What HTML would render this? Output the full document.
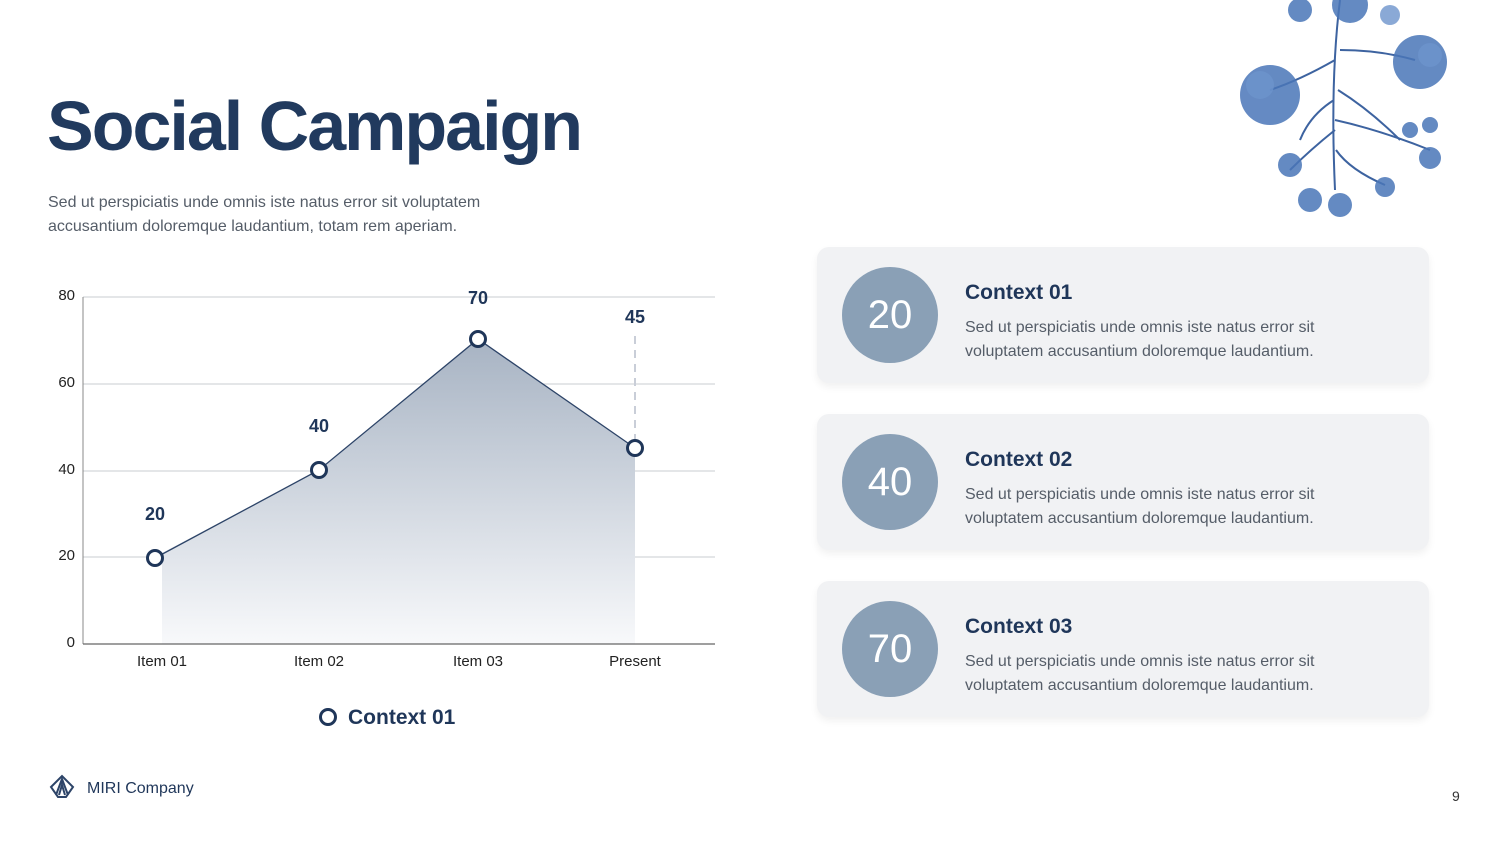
<!DOCTYPE html>
<html><head><meta charset="utf-8"><style>
body{margin:0;width:1500px;height:844px;background:#fff;overflow:hidden;position:relative;font-family:"Liberation Sans",sans-serif;color:#1f3659}
.t{position:absolute}
.card{position:absolute;left:817px;width:612px;height:136px;background:#f1f2f4;border-radius:12px;box-shadow:0 4px 8px rgba(0,0,0,0.06)}
.circ{position:absolute;left:25px;top:20px;width:96px;height:96px;border-radius:50%;background:#8aa0b6;color:#fff;font-size:40px;text-align:center;line-height:96px}
.ct{position:absolute;left:148px;top:34px;font-size:21px;font-weight:bold;color:#1f3659}
.cd{position:absolute;left:148px;top:69px;font-size:16px;line-height:23.5px;color:#555d68}
</style></head><body>
<div class="t" style="left:47px;top:86px;font-size:70px;font-weight:bold;letter-spacing:-2px;color:#213a5e">Social Campaign</div>
<div class="t" style="left:48px;top:191px;font-size:16px;line-height:24px;color:#555d68">Sed ut perspiciatis unde omnis iste natus error sit voluptatem<br>accusantium doloremque laudantium, totam rem aperiam.</div>
<svg class="t" style="left:0;top:0" width="800" height="844">
<defs><linearGradient id="g" x1="0" y1="0" x2="0" y2="1"><stop offset="0" stop-color="#a7b3c3"/><stop offset="1" stop-color="#f8f9fb"/></linearGradient></defs>
<g stroke="#d3d6da" stroke-width="1.3"><line x1="83" y1="297" x2="715" y2="297"/><line x1="83" y1="384" x2="715" y2="384"/><line x1="83" y1="471" x2="715" y2="471"/><line x1="83" y1="557" x2="715" y2="557"/></g>
<polygon points="162,553 319,470 478,339 635,448 635,644 162,644" fill="url(#g)"/>
<polyline points="155,558 319,470 478,339 635,448" fill="none" stroke="#2d4468" stroke-width="1.3"/>
<line x1="635" y1="336" x2="635" y2="440" stroke="#c9ced8" stroke-width="2" stroke-dasharray="8,6"/>
<line x1="83" y1="297" x2="83" y2="644" stroke="#888" stroke-width="1"/>
<line x1="83" y1="644" x2="715" y2="644" stroke="#666" stroke-width="1.2"/>
<g fill="#fff" stroke="#1f3659" stroke-width="3"><circle cx="155" cy="558" r="7.5"/><circle cx="319" cy="470" r="7.5"/><circle cx="478" cy="339" r="7.5"/><circle cx="635" cy="448" r="7.5"/><circle cx="328" cy="717" r="7.5"/></g>
<g font-size="15" fill="#222" text-anchor="end"><text x="75" y="300">80</text><text x="75" y="387">60</text><text x="75" y="474">40</text><text x="75" y="560">20</text><text x="75" y="647">0</text></g>
<g font-size="15" fill="#222" text-anchor="middle"><text x="162" y="666">Item 01</text><text x="319" y="666">Item 02</text><text x="478" y="666">Item 03</text><text x="635" y="666">Present</text></g>
<g font-size="18" fill="#1f3659" text-anchor="middle" font-weight="bold"><text x="155" y="520">20</text><text x="319" y="432">40</text><text x="478" y="304">70</text><text x="635" y="323">45</text></g>
<text x="348" y="724" font-size="21" font-weight="bold" fill="#1f3659">Context 01</text>
<g fill="none" stroke="#2d4468" stroke-width="2"><path d="M51 787 L62 776 L73 787 L66 797 L58 797 Z"/><path d="M56 795 L62 779 L68 795 M59 795 L62 785 L65 795"/></g>
<text x="87" y="793" font-size="16" fill="#1f3659">MIRI Company</text>
</svg>
<div class="t" style="left:1452px;top:788px;font-size:14px;color:#333">9</div>
<svg class="t" style="left:1230px;top:0" width="240" height="225">
<g stroke="#3d63a0" stroke-width="2" fill="none"><path d="M110 0 Q100 80 105 190"/><path d="M105 60 Q70 80 40 90"/><path d="M110 50 Q150 50 185 60"/><path d="M105 120 Q150 130 200 150"/><path d="M105 130 Q80 150 60 170"/><path d="M106 150 Q120 170 155 185"/><path d="M108 90 Q140 110 170 140"/><path d="M104 100 Q80 115 70 140"/></g>
<g fill="#4a76b8" opacity="0.85"><circle cx="40" cy="95" r="30"/><circle cx="190" cy="62" r="27"/><circle cx="60" cy="165" r="12"/><circle cx="80" cy="200" r="12"/><circle cx="110" cy="205" r="12"/><circle cx="155" cy="187" r="10"/><circle cx="200" cy="158" r="11"/><circle cx="180" cy="130" r="8"/><circle cx="200" cy="125" r="8"/><circle cx="120" cy="5" r="18"/><circle cx="70" cy="10" r="12"/></g>
<g fill="#6d94cc" opacity="0.8"><circle cx="30" cy="85" r="14"/><circle cx="200" cy="55" r="12"/><circle cx="160" cy="15" r="10"/></g>
</svg>
<div class="card" style="top:247px"><div class="circ">20</div><div class="ct">Context 01</div><div class="cd">Sed ut perspiciatis unde omnis iste natus error sit<br>voluptatem accusantium doloremque laudantium.</div></div>
<div class="card" style="top:414px"><div class="circ">40</div><div class="ct">Context 02</div><div class="cd">Sed ut perspiciatis unde omnis iste natus error sit<br>voluptatem accusantium doloremque laudantium.</div></div>
<div class="card" style="top:581px"><div class="circ">70</div><div class="ct">Context 03</div><div class="cd">Sed ut perspiciatis unde omnis iste natus error sit<br>voluptatem accusantium doloremque laudantium.</div></div>
</body></html>
